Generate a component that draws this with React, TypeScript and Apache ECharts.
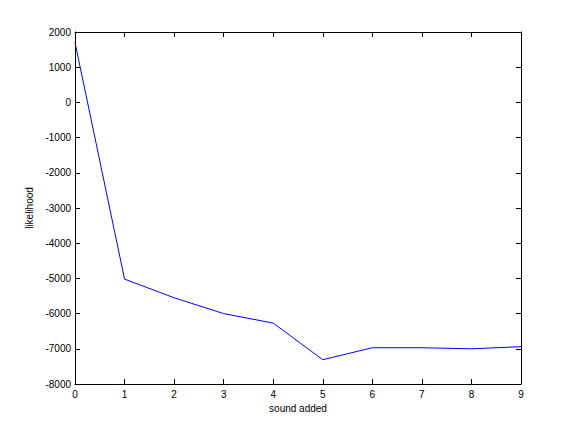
import React, { useEffect, useRef } from "react";
import * as echarts from "echarts";

const xValues = [0, 1, 2, 3, 4, 5, 6, 7, 8, 9];
const likelihood = [1700, -5020, -5550, -6000, -6270, -7310, -6970, -6970, -7000, -6940];
const xLabel = "sound added";
const yLabel = "likelihood";

export default function App() {
  const ref = useRef<HTMLDivElement>(null);
  useEffect(() => {
    if (!ref.current) return;
    const chart = echarts.init(ref.current, undefined, { renderer: "svg" });
    const font = { fontFamily: "Liberation Sans, Arial, Helvetica, sans-serif", fontSize: 10, color: "#000" };
    const axisLine = { show: true, onZero: false, lineStyle: { color: "#000", width: 1 } };
    const axisTick = { show: true, inside: true, length: 5, lineStyle: { color: "#000", width: 1 } };
    const fmt = (v: number) => String(v);
    chart.setOption({
      animation: false,
      backgroundColor: "#fff",
      grid: { left: 75, right: 55, top: 32, bottom: 48, containLabel: false },
      xAxis: [
        {
          type: "value",
          min: 0,
          max: 9,
          interval: 1,
          position: "bottom",
          axisLine,
          axisTick,
          splitLine: { show: false },
          axisLabel: { ...font, margin: 5, formatter: fmt },
          name: xLabel,
          nameLocation: "middle",
          nameGap: 18,
          nameTextStyle: font,
        },
        {
          type: "value",
          min: 0,
          max: 9,
          interval: 1,
          position: "top",
          axisLine,
          axisTick,
          splitLine: { show: false },
          axisLabel: { show: false },
        },
      ],
      yAxis: [
        {
          type: "value",
          min: -8000,
          max: 2000,
          interval: 1000,
          position: "left",
          axisLine,
          axisTick,
          splitLine: { show: false },
          axisLabel: { ...font, margin: 4, formatter: fmt },
          name: yLabel,
          nameLocation: "middle",
          nameGap: 40,
          nameRotate: 90,
          nameTextStyle: font,
        },
        {
          type: "value",
          min: -8000,
          max: 2000,
          interval: 1000,
          position: "right",
          axisLine,
          axisTick,
          splitLine: { show: false },
          axisLabel: { show: false },
        },
      ],
      series: [
        {
          type: "line",
          data: xValues.map((x, i) => [x, likelihood[i]]),
          showSymbol: false,
          lineStyle: { color: "#0000ff", width: 1 },
          itemStyle: { color: "#0000ff" },
        },
      ],
    });
    return () => chart.dispose();
  }, []);
  return (
    <div
      ref={ref}
      style={{ position: "absolute", left: 0, top: 0, width: 576, height: 432, background: "#fff" }}
    />
  );
}
